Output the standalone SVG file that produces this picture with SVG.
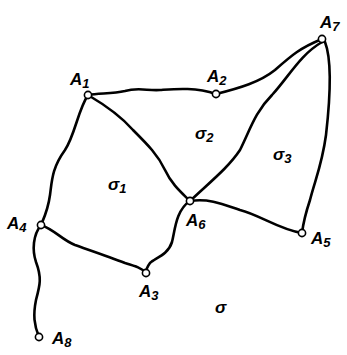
<svg xmlns="http://www.w3.org/2000/svg" width="347" height="355" viewBox="0 0 347 355">
<style>
.e{fill:none;stroke:#000;stroke-width:2.6;stroke-linecap:round;stroke-linejoin:round}
.n{fill:#fff;stroke:#000;stroke-width:1.6}
.t{font-family:"Liberation Sans",Arial,sans-serif;font-style:italic;font-weight:bold;font-size:17px;fill:#000}
.s{font-size:13px}
</style>
<rect width="347" height="355" fill="#fff"/>
<g id="connectors">
<path class="e" d="M88,95 C100,93 112,94 125,91 C138,87 148,91 160,90 C175,89 195,87 216,94"/>
<path class="e" d="M216,94 C240,88 260,82 275,70 C292,55 300,48 322,39"/>
<path class="e" d="M322,42 C300,55 290,75 272,95 C255,112 250,130 240,150 C228,168 210,182 190,201"/>
<path class="e" d="M325,42 C332,60 330,100 326,135 C322,165 315,180 310,200 C305,215 303,225 302,233"/>
<path class="e" d="M88,95 C105,105 120,115 133,130 C148,145 158,155 165,170 C172,185 182,193 190,201"/>
<path class="e" d="M88,95 C78,110 75,135 65,150 C52,168 52,180 50,195 C48,210 44,218 41,225"/>
<path class="e" d="M190,201 C210,198 225,205 240,210 C260,215 280,230 302,233"/>
<path class="e" d="M190,201 C176,210 175,230 172,242 C168,255 155,258 150,263 C147,267 146,270 146,273"/>
<path class="e" d="M41,225 C55,230 62,240 75,245 C95,252 110,257 125,263 C135,266 142,268 146,273"/>
<path class="e" d="M41,225 C33,235 32,250 36,262 C42,278 40,285 36,300 C33,315 34,325 39,337"/>
</g>
<g id="A1"><circle class="n" cx="88" cy="95" r="3.6"/><text class="t" x="70" y="85">A<tspan class="s" dy="3">1</tspan></text></g>
<g id="A2"><circle class="n" cx="216" cy="94" r="3.6"/><text class="t" x="207" y="82">A<tspan class="s" dy="3">2</tspan></text></g>
<g id="A7"><circle class="n" cx="322" cy="39" r="3.6"/><text class="t" x="320" y="28">A<tspan class="s" dy="3">7</tspan></text></g>
<g id="A6"><circle class="n" cx="190" cy="201" r="3.6"/><text class="t" x="186" y="226">A<tspan class="s" dy="3">6</tspan></text></g>
<g id="A4"><circle class="n" cx="41" cy="225" r="3.6"/><text class="t" x="7" y="229">A<tspan class="s" dy="3">4</tspan></text></g>
<g id="A5"><circle class="n" cx="302" cy="233" r="3.6"/><text class="t" x="311" y="244">A<tspan class="s" dy="3">5</tspan></text></g>
<g id="A3"><circle class="n" cx="146" cy="273" r="3.6"/><text class="t" x="139" y="297">A<tspan class="s" dy="3">3</tspan></text></g>
<g id="A8"><circle class="n" cx="39" cy="337" r="3.6"/><text class="t" x="52" y="344">A<tspan class="s" dy="3">8</tspan></text></g>
<g id="regions">
<text class="t" x="108" y="190">σ<tspan class="s" dy="3">1</tspan></text>
<text class="t" x="195" y="139">σ<tspan class="s" dy="3">2</tspan></text>
<text class="t" x="273" y="160">σ<tspan class="s" dy="3">3</tspan></text>
<text class="t" x="215" y="313">σ</text>
</g>
</svg>
